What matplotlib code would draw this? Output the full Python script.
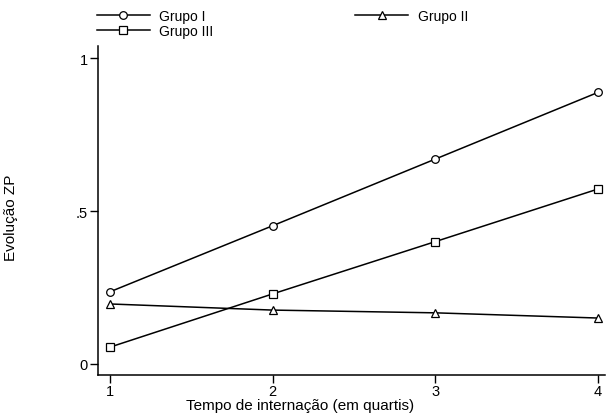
import matplotlib
matplotlib.use("Agg")
import matplotlib.pyplot as plt
from matplotlib.ticker import FixedLocator, FixedFormatter

plt.rcParams['font.family'] = ['Liberation Sans', 'DejaVu Sans']

quartis = [1, 2, 3, 4]
grupo_i = [0.236, 0.452, 0.670, 0.888]
grupo_ii = [0.196, 0.176, 0.167, 0.150]
grupo_iii = [0.055, 0.229, 0.400, 0.572]
yticks = [0, 0.5, 1]
yticklabels = ["0", ".5", "1"]
xticks = [1, 2, 3, 4]
xticklabels = ["1", "2", "3", "4"]

fig = plt.figure(figsize=(6.13, 4.14), dpi=100)
ax = fig.add_axes([0.160, 0.092, 0.827, 0.794])

kw = dict(color='black', lw=1.1, markerfacecolor='white', markeredgecolor='black',
          markeredgewidth=0.9, markersize=5.5)
l1, = ax.plot(quartis, grupo_i, marker='o', label='Grupo I', **kw)
l2, = ax.plot(quartis, grupo_ii, marker='^', label='Grupo II', **kw)
l3, = ax.plot(quartis, grupo_iii, marker='s', label='Grupo III', **kw)

ax.set_xlim(0.926, 4.043)
ax.set_ylim(-0.036, 1.039)
ax.spines['top'].set_visible(False)
ax.spines['right'].set_visible(False)
for s in ('left', 'bottom'):
    ax.spines[s].set_linewidth(1.1)
ax.xaxis.set_major_locator(FixedLocator(xticks))
ax.xaxis.set_major_formatter(FixedFormatter(xticklabels))
ax.yaxis.set_major_locator(FixedLocator(yticks))
ax.yaxis.set_major_formatter(FixedFormatter(yticklabels))
ax.tick_params(direction='out', length=6, width=1.0, labelsize=10.5, pad=1.5)
ax.tick_params(axis='x', pad=0.5)

ax.set_xlabel('Tempo de internação (em quartis)', fontsize=11)
ax.xaxis.set_label_coords(0.398, -0.069)
ax.set_ylabel('Evolução ZP', fontsize=11)
ax.yaxis.set_label_coords(-0.157, 0.48)

fig.legend([l1, l3, l2], ['Grupo I', 'Grupo III', 'Grupo II'], ncol=2,
           loc='upper left', bbox_to_anchor=(0.140, 1.003), frameon=False,
           fontsize=10, handlelength=3.8, handletextpad=0.7, columnspacing=10.2,
           labelspacing=0.05, borderpad=0.3)

fig.savefig('out.png', dpi=100)
